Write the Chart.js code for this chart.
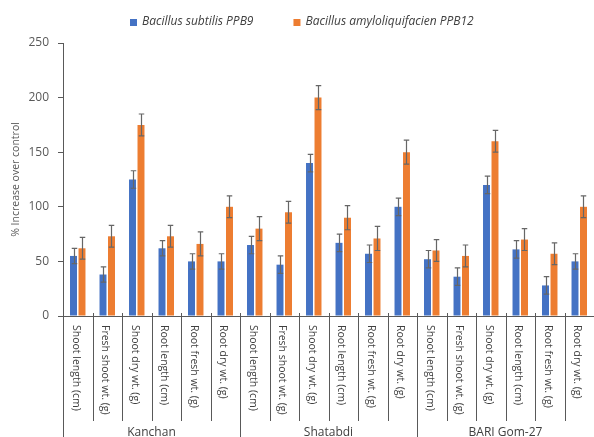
<!DOCTYPE html>
<html>
<head>
<meta charset="utf-8">
<script src="https://cdn.jsdelivr.net/npm/chart.js@4.4.0/dist/chart.umd.min.js"></script>
<style>
html,body{margin:0;padding:0;background:#fff;}
#wrap{width:594px;height:437px;position:relative;}
</style>
</head>
<body>
<div id="wrap"><canvas id="c" width="594" height="437"></canvas></div>
<script>
// ---- data ----
const groups = ["Kanchan", "Shatabdi", "BARI Gom-27"];
const categories = ["Shoot length (cm)", "Fresh shoot wt. (g)", "Shoot dry wt. (g)", "Root length (cm)", "Root fresh wt. (g)", "Root dry wt. (g)"];
const seriesNames = ["Bacillus subtilis PPB9", "Bacillus amyloliquifacien PPB12"];
const subtilis = [55, 38, 125, 62, 50, 50, 65, 47, 140, 67, 57, 100, 52, 36, 120, 61, 28, 50];
const amylo = [62, 73, 175, 73, 66, 100, 80, 95, 200, 90, 71, 150, 60, 55, 160, 70, 57, 100];
const subtilisErr = [7, 7, 8, 7, 7, 7, 8, 8, 8, 8, 8, 8, 8, 8, 8, 8, 8, 7];
const amyloErr = [10, 10, 10, 10, 11, 10, 11, 10, 11, 11, 11, 11, 10, 10, 10, 10, 10, 10];
const yTicks = [0, 50, 100, 150, 200, 250];
const yTitle = "% Increase over control";

const labels = [];
groups.forEach(g => categories.forEach(c => labels.push(c)));

const FONT = "'Open Sans'";
const TXT = "#404040";
const AX = "#595959";

const errorBars = {
  id: "errorBars",
  afterDatasetsDraw(chart) {
    const ctx = chart.ctx;
    const ys = chart.scales.y;
    chart.data.datasets.forEach((ds, i) => {
      const meta = chart.getDatasetMeta(i);
      meta.data.forEach((bar, j) => {
        const v = ds.data[j], e = ds.errors[j];
        const t = ys.getPixelForValue(v + e), b = ys.getPixelForValue(v - e);
        const x = Math.round(bar.x) + 0.5;
        ctx.save();
        ctx.strokeStyle = "#666666";
        ctx.lineWidth = 1.2;
        ctx.beginPath();
        ctx.moveTo(x, t); ctx.lineTo(x, b);
        ctx.moveTo(x - 2.75, t); ctx.lineTo(x + 2.75, t);
        ctx.moveTo(x - 2.75, b); ctx.lineTo(x + 2.75, b);
        ctx.stroke();
        ctx.restore();
      });
    });
  }
};

const customLegend = {
  id: "customLegend",
  afterDraw(chart) {
    const ctx = chart.ctx;
    ctx.save();
    ctx.font = "italic 12px " + FONT;
    const items = chart.data.datasets.map(d => ({ text: d.label, color: d.backgroundColor, w: ctx.measureText(d.label).width }));
    const box = 7, gapText = 5, gapItem = 40;
    let total = 0;
    items.forEach((it, i) => { total += box + gapText + it.w + (i < items.length - 1 ? gapItem : 0); });
    let x = Math.round(chart.width / 2 + 5 - total / 2);
    const cy = 22;
    ctx.textBaseline = "middle";
    ctx.textAlign = "left";
    items.forEach(it => {
      ctx.fillStyle = it.color;
      ctx.fillRect(x, cy - 3, box, box);
      ctx.fillStyle = TXT;
      ctx.fillText(it.text, x + box + gapText, cy);
      x += box + gapText + it.w + gapItem;
    });
    ctx.restore();
  }
};

const xLabels = {
  id: "xLabels",
  afterDraw(chart) {
    const ctx = chart.ctx;
    const xs = chart.scales.x;
    const ca = chart.chartArea;
    const y0 = ca.bottom;
    const H = chart.height;
    const n = labels.length;
    const per = categories.length;
    ctx.save();
    ctx.strokeStyle = AX;
    ctx.lineWidth = 1;
    for (let k = 0; k < n; k++) {
      let x = k === 0 ? ca.left : (xs.getPixelForValue(k - 1) + xs.getPixelForValue(k)) / 2;
      x = Math.round(x) + 0.5;
      const isGroup = (k % per === 0);
      ctx.beginPath();
      ctx.moveTo(x, y0 - (k === 0 ? 0 : 3));
      ctx.lineTo(x, isGroup ? H : y0 + 105);
      ctx.stroke();
    }
    ctx.fillStyle = TXT;
    ctx.font = "10.5px " + FONT;
    ctx.textAlign = "left";
    ctx.textBaseline = "middle";
    for (let k = 0; k < n; k++) {
      const x = xs.getPixelForValue(k);
      ctx.save();
      ctx.translate(x - 2, y0 + 9);
      ctx.rotate(Math.PI / 2);
      ctx.fillText(labels[k], 0, 0);
      ctx.restore();
    }
    ctx.font = "12px " + FONT;
    ctx.textAlign = "center";
    ctx.textBaseline = "middle";
    for (let g = 0; g < groups.length; g++) {
      const a = xs.getPixelForValue(g * per), b = xs.getPixelForValue(g * per + per - 1);
      ctx.fillText(groups[g], (a + b) / 2, H - 4);
    }
    ctx.restore();
  }
};

new Chart(document.getElementById("c"), {
  type: "bar",
  data: {
    labels: labels,
    datasets: [
      { label: seriesNames[0], data: subtilis, errors: subtilisErr, backgroundColor: "#4472C4", categoryPercentage: 0.576, barPercentage: 0.82 },
      { label: seriesNames[1], data: amylo, errors: amyloErr, backgroundColor: "#ED7D31", categoryPercentage: 0.576, barPercentage: 0.82 }
    ]
  },
  options: {
    responsive: false,
    animation: false,
    layout: { padding: { top: 43, left: 0, right: 0, bottom: 0 } },
    plugins: {
      legend: { display: false },
      tooltip: { enabled: false }
    },
    scales: {
      x: {
        ticks: { display: false },
        grid: { display: false },
        border: { display: true, color: AX, width: 1 },
        afterFit(s) { s.height = 121; }
      },
      y: {
        min: 0, max: 250,
        afterBuildTicks(s) { s.ticks = yTicks.map(v => ({ value: v })); },
        ticks: { color: AX, padding: 9, font: { family: FONT, size: 12 } },
        grid: { drawOnChartArea: false, tickLength: 5, color: AX },
        border: { display: true, color: AX, width: 1 },
        title: { display: true, text: yTitle, color: AX, padding: { top: 10, bottom: 0 }, font: { family: FONT, size: 10.5 } },
        afterFit(s) { s.width = 63; }
      }
    }
  },
  plugins: [errorBars, xLabels, customLegend]
});
</script>
</body>
</html>
